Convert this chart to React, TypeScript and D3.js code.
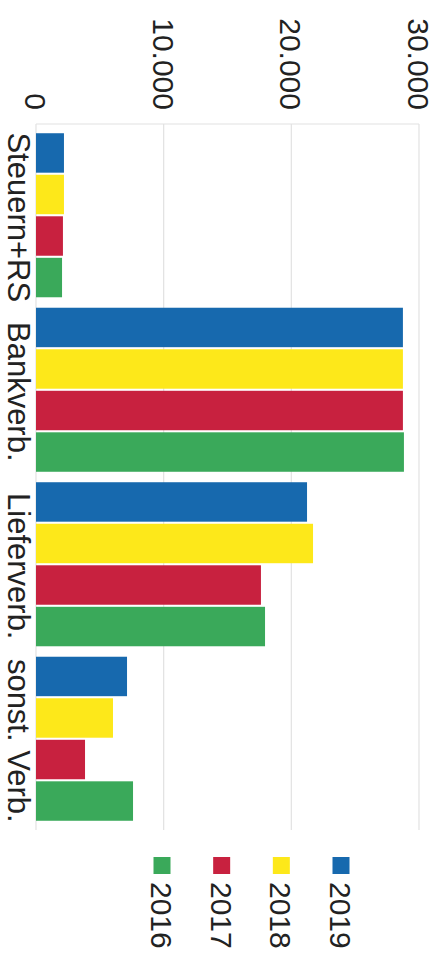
import React from "react";
import * as d3 from "d3";

const categories = ["Steuern+RS", "Bankverb.", "Lieferverb.", "sonst. Verb."];
const seriesNames = ["2019", "2018", "2017", "2016"];
const values2019 = [2190, 28740, 21230, 7130];
const values2018 = [2190, 28740, 21700, 6030];
const values2017 = [2110, 28740, 17620, 3840];
const values2016 = [2040, 28820, 17940, 7600];
const tickValues = [0, 10000, 20000, 30000];
const tickLabels = ["0", "10.000", "20.000", "30.000"];
const legendOrder = ["2016", "2017", "2018", "2019"];

const colors: Record<string, string> = {
  "2019": "#1769ae",
  "2018": "#fde81a",
  "2017": "#c8213f",
  "2016": "#3aa95a",
};

const seriesValues: Record<string, number[]> = {
  "2019": values2019,
  "2018": values2018,
  "2017": values2017,
  "2016": values2016,
};

const W = 445;
const H = 955;
const FONT = "'Liberation Sans', Arial, Helvetica, sans-serif";

export default function App() {
  const x = d3.scaleLinear().domain([0, 30000]).range([36, 419]);
  const y = d3
    .scaleBand<string>()
    .domain(categories)
    .range([128, 826])
    .paddingInner(0.06)
    .paddingOuter(0.03);
  const ys = d3
    .scaleBand<string>()
    .domain(seriesNames)
    .range([0, y.bandwidth()])
    .paddingInner(0.05);

  const legendX = d3
    .scalePoint<string>()
    .domain(legendOrder)
    .range([162, 341]);

  return (
    <svg
      width={W}
      height={H}
      style={{ position: "absolute", left: 0, top: 0, background: "#fff" }}
    >
      {/* grid */}
      {tickValues.map((t) => (
        <line
          key={"g" + t}
          x1={x(t)}
          x2={x(t)}
          y1={124}
          y2={830}
          stroke="#e2e2e2"
          strokeWidth={1.2}
        />
      ))}
      <line x1={x(0)} x2={x(30000)} y1={124} y2={124} stroke="#e2e2e2" strokeWidth={1.2} />

      {/* tick labels */}
      {tickValues.map((t, i) => (
        <text
          key={"t" + t}
          transform={`translate(${x(t) - 11},110) rotate(90)`}
          textAnchor="end"
          fontFamily={FONT}
          fontSize={30}
          fill="#222"
        >
          {tickLabels[i]}
        </text>
      ))}

      {/* bars */}
      {categories.map((c, ci) => (
        <g key={c} transform={`translate(0,${y(c)})`}>
          {seriesNames.map((s) => (
            <rect
              key={s}
              x={x(0)}
              y={ys(s)}
              width={x(seriesValues[s][ci]) - x(0)}
              height={ys.bandwidth()}
              fill={colors[s]}
            />
          ))}
        </g>
      ))}

      {/* category labels */}
      {categories.map((c) => (
        <text
          key={"c" + c}
          transform={`translate(8,${(y(c) ?? 0) + y.bandwidth() / 2 + 2}) rotate(90)`}
          textAnchor="middle"
          fontFamily={FONT}
          fontSize={31}
          fill="#222"
        >
          {c}
        </text>
      ))}

      {/* legend */}
      {legendOrder.map((s) => {
        const cx = legendX(s) ?? 0;
        return (
          <g key={"l" + s}>
            <rect x={cx - 8.5} y={857} width={17} height={17} fill={colors[s]} />
            <text
              transform={`translate(${cx - 11},882) rotate(90)`}
              textAnchor="start"
              fontFamily={FONT}
              fontSize={30}
              fill="#222"
            >
              {s}
            </text>
          </g>
        );
      })}
    </svg>
  );
}
